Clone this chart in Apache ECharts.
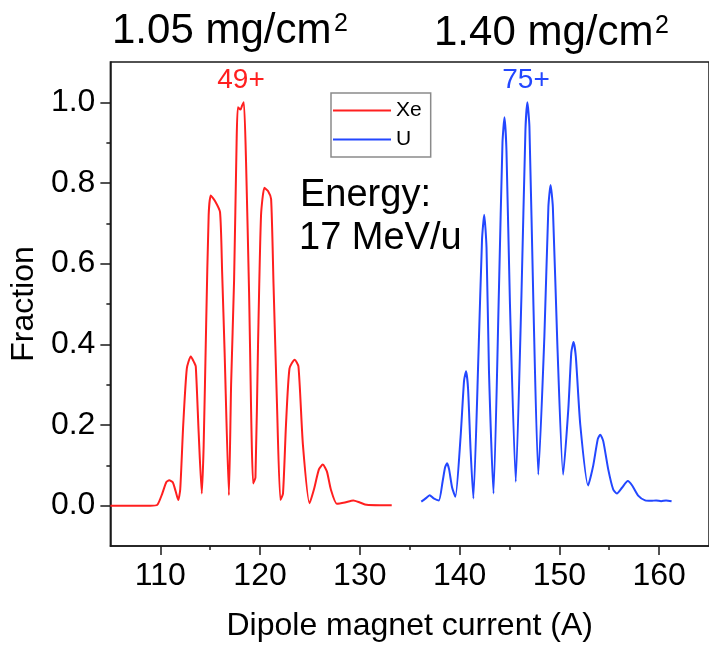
<!DOCTYPE html>
<html>
<head>
<meta charset="utf-8">
<script src="https://cdn.jsdelivr.net/npm/echarts@6/dist/echarts.min.js"></script>
<style>
html,body{margin:0;padding:0;background:#fff;}
#chart{width:709px;height:647px;}
</style>
</head>
<body>
<div id="chart"></div>
<script>
// ---- Data ----
const xeCurrent = [105.0,107.0,109.0,109.7,110.2,110.6,110.9,111.25,111.55,111.8,112.0,112.3,112.66,113.06,113.4,113.56,113.85,114.16,114.35,114.6,114.85,115.06,115.5,115.99,116.2,116.45,116.88,117.1,117.4,117.65,117.78,118.05,118.2,118.38,118.6,118.9,119.31,119.54,119.8,120.1,120.44,120.8,121.11,121.35,121.7,122.04,122.3,122.6,122.95,123.47,123.85,124.3,124.96,125.4,125.9,126.29,126.7,127.1,127.69,128.5,129.35,130.0,130.68,132.0,133.2];
const xeFraction = [0.000,0.000,0.000,0.002,0.030,0.058,0.063,0.058,0.035,0.014,0.040,0.200,0.340,0.370,0.355,0.345,0.180,0.030,0.150,0.450,0.720,0.769,0.755,0.728,0.580,0.380,0.026,0.300,0.560,0.900,0.988,0.982,0.992,1.000,0.850,0.530,0.055,0.070,0.400,0.720,0.788,0.780,0.760,0.550,0.250,0.014,0.030,0.200,0.340,0.362,0.345,0.150,0.006,0.040,0.090,0.102,0.085,0.040,0.005,0.008,0.013,0.008,0.002,0.001,0.001];

const uCurrent = [136.16,136.6,137.0,137.4,137.92,138.3,138.55,138.75,138.95,139.25,139.58,140.1,140.45,140.65,140.85,141.1,141.38,141.9,142.25,142.47,142.7,142.95,143.4,143.95,144.3,144.5,144.7,145.05,145.63,146.2,146.6,146.8,147.0,147.4,147.89,148.5,148.9,149.12,149.35,149.8,150.38,150.9,151.2,151.42,151.65,152.1,152.88,153.4,153.85,154.1,154.4,154.9,155.4,155.77,156.3,156.86,157.3,157.9,158.6,159.2,159.7,160.2,160.7,161.25];
const uFraction = [0.010,0.018,0.026,0.018,0.013,0.060,0.095,0.105,0.090,0.045,0.022,0.170,0.310,0.333,0.290,0.140,0.018,0.380,0.660,0.721,0.640,0.330,0.030,0.540,0.900,0.963,0.880,0.500,0.059,0.520,0.930,1.000,0.940,0.500,0.077,0.420,0.740,0.795,0.740,0.400,0.077,0.240,0.380,0.406,0.370,0.200,0.050,0.100,0.165,0.176,0.160,0.090,0.040,0.030,0.045,0.061,0.050,0.025,0.013,0.012,0.013,0.011,0.013,0.011];

const xTicks = [110,120,130,140,150,160];
const yTicks = [0,0.2,0.4,0.6,0.8,1.0];
const seriesNames = ['Xe','U'];
const peakLabels = ['49+','75+'];
const thickness = ['1.05 mg/cm','1.40 mg/cm'];
const energyText = ['Energy:','17 MeV/u'];

// ---- Chart ----
const FONT = '"Liberation Sans", Arial, sans-serif';
const RED = '#ff1f1f';
const BLUE = '#2347ff';
const AX = '#1a1a1a';

function pairs(xs, ys){ return xs.map((x,i)=>[x, ys[i]]); }

const chart = echarts.init(document.getElementById('chart'), null, {renderer:'canvas'});

const option = {
  animation: false,
  backgroundColor: '#fff',
  grid: {left:108, right:-3, top:62, bottom:99, show:true, borderColor:AX, borderWidth:1.5, backgroundColor:'transparent'},
  legend: {
    orient:'vertical', left:331, top:93,
    data: seriesNames,
    icon: 'path://M0,0H58V2H0Z',
    itemWidth:58, itemHeight:14, itemGap:8,
    padding:[7,9,7,2],
    borderColor:'#8a8a8a', borderWidth:1.5,
    textStyle:{fontFamily:FONT, fontSize:21, color:'#000'}
  },
  xAxis: {
    type:'value', min:105, max:165, splitNumber:6,
    name:'Dipole magnet current (A)', nameLocation:'middle', nameGap:64,
    nameTextStyle:{fontFamily:FONT, fontSize:32, color:'#000'},
    axisLine:{show:true, onZero:false, lineStyle:{color:AX, width:1.5}},
    axisTick:{show:true, inside:false, length:9, lineStyle:{color:AX, width:1.5}, customValues: xTicks},
    minorTick:{show:true, splitNumber:2, length:4, lineStyle:{color:AX, width:1.5}},
    axisLabel:{fontFamily:FONT, fontSize:32, color:'#000', margin:14, customValues: xTicks},
    splitLine:{show:false}
  },
  yAxis: {
    type:'value', min:-0.1, max:1.1, splitNumber:6,
    name:'Fraction', nameLocation:'middle', nameGap:64, nameRotate:90,
    nameTextStyle:{fontFamily:FONT, fontSize:32, color:'#000'},
    axisLine:{show:true, onZero:false, lineStyle:{color:AX, width:1.5}},
    axisTick:{show:true, inside:false, length:10, lineStyle:{color:AX, width:1.5}, customValues: yTicks},
    minorTick:{show:true, splitNumber:2, length:4, lineStyle:{color:AX, width:1.5}},
    axisLabel:{fontFamily:FONT, fontSize:32, color:'#000', margin:15, customValues: yTicks,
      formatter: v => v.toFixed(1)},
    splitLine:{show:false}
  },
  series: [
    {name:seriesNames[0], type:'line', data:pairs(xeCurrent, xeFraction), symbol:'none', smooth:0.2,
     lineStyle:{color:RED, width:2}, itemStyle:{color:RED}},
    {name:seriesNames[1], type:'line', data:pairs(uCurrent, uFraction), symbol:'none', smooth:0.2,
     lineStyle:{color:BLUE, width:2}, itemStyle:{color:BLUE}}
  ],
  graphic: [
    {type:'text', x:112, y:31, style:{text:thickness[0], font:'42px '+FONT, fill:'#000', align:'left', verticalAlign:'middle'}},
    {type:'text', x:334, y:24, style:{text:'2', font:'25px '+FONT, fill:'#000', align:'left', verticalAlign:'middle'}},
    {type:'text', x:434, y:33, style:{text:thickness[1], font:'42px '+FONT, fill:'#000', align:'left', verticalAlign:'middle'}},
    {type:'text', x:655, y:26, style:{text:'2', font:'25px '+FONT, fill:'#000', align:'left', verticalAlign:'middle'}},
    {type:'text', x:241, y:80, style:{text:peakLabels[0], font:'28px '+FONT, fill:RED, align:'center', verticalAlign:'middle'}},
    {type:'text', x:526, y:80, style:{text:peakLabels[1], font:'28px '+FONT, fill:BLUE, align:'center', verticalAlign:'middle'}},
    {type:'text', x:300, y:196, style:{text:energyText[0], font:'38px '+FONT, fill:'#000', align:'left', verticalAlign:'middle'}},
    {type:'text', x:299, y:239, style:{text:energyText[1], font:'38px '+FONT, fill:'#000', align:'left', verticalAlign:'middle'}}
  ]
};
chart.setOption(option);
</script>
</body>
</html>
